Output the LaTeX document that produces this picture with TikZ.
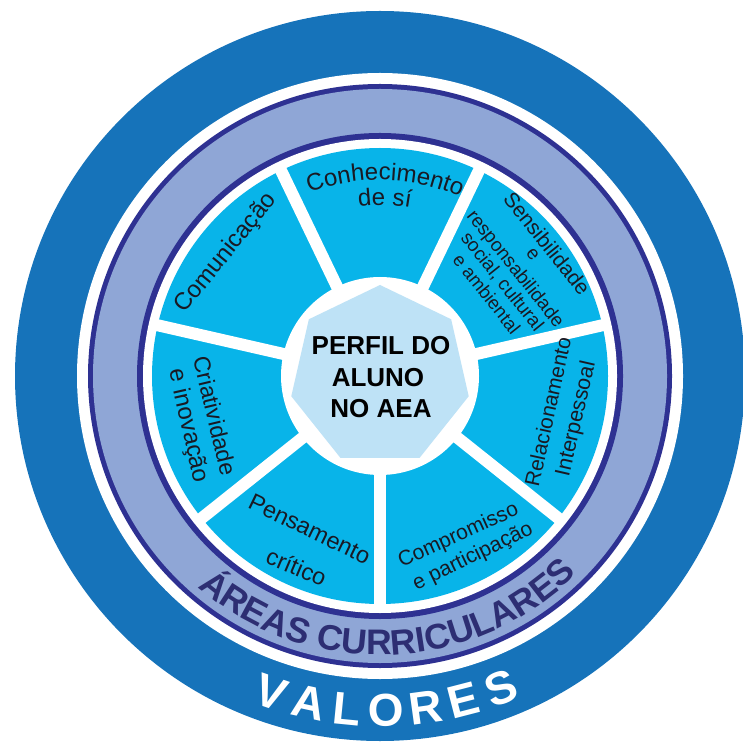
\documentclass[tikz,border=0pt]{standalone}
\usepackage{fontspec}
\setmainfont{Liberation Sans}
\usetikzlibrary{decorations.text,shapes.geometric}
\definecolor{ringblue}{RGB}{22,115,186}
\definecolor{navy}{RGB}{46,49,146}
\definecolor{lav}{RGB}{143,166,214}
\definecolor{sect}{RGB}{8,180,233}
\definecolor{hept}{RGB}{190,226,246}
\definecolor{areatxt}{RGB}{45,46,115}
\definecolor{txt}{RGB}{25,25,35}
\newcommand\cwtext[4]{%
  \path[decorate, decoration={text along path, text align=center, text color=txt,
    text={|\fontsize{#3}{#3}\selectfont|#4}}]
    ({380+#2*cos(#1+75)},{366+#2*sin(#1+75)}) arc[start angle=#1+75, end angle=#1-75, radius=#2pt];}
\newcommand\sline[6]{%
  \node[sectxt, font=\fontsize{#4}{#4}\selectfont, rotate=#3] (#6) at (#1,{742-#2}) {#5};}
\begin{document}
\begin{tikzpicture}[x=1pt,y=1pt,
  hubtxt/.style={font=\fontsize{26}{26}\selectfont\bfseries, text=black, anchor=base, inner sep=0pt},
  sectxt/.style={text=txt, inner sep=0pt, text height=0.62em, text depth=0pt, anchor=center},
  valletter/.style={font=\fontsize{46}{46}\selectfont\bfseries, text=white, inner sep=0pt,
    text height=33pt, text depth=0pt, anchor=center}]
\useasboundingbox (0,0) rectangle (743,742);
\coordinate (C) at (380,366);
\fill[ringblue] (C) circle[radius=365pt];
\fill[white] (C) circle[radius=303pt];
\fill[navy] (C) circle[radius=292pt];
\fill[lav] (C) circle[radius=287pt];
\fill[navy] (C) circle[radius=243pt];
\fill[white] (C) circle[radius=237pt];
\fill[sect] (C) circle[radius=228pt];
\foreach \k in {0,...,6} \draw[white, line width=12pt] (C) -- ++({115.714+\k*51.4286}:232pt);
\fill[white] (C) circle[radius=99pt];
\node[regular polygon, regular polygon sides=7, minimum size=182pt, inner sep=0pt, fill=hept] (hub) at (C) {};
\node[hubtxt] (p1) at (381,387) {PERFIL DO};
\node[hubtxt] (p2) at (378,355.3) {ALUNO};
\node[hubtxt] (p3) at (381,324) {NO AEA};
% sector texts
\cwtext{88.5}{196}{24}{Conhecimento}
\cwtext{88.5}{171}{24}{de sí}
\sline{228.5}{255}{51}{24}{Comunicação}{com}
\sline{543.7}{246.3}{-51.4}{21}{Sensibilidade}{sen1}
\sline{531}{256}{-51.4}{19}{e}{sen2}
\sline{513.4}{270.5}{-51.4}{19}{responsabilidade}{sen3}
\sline{500}{283.5}{-51.4}{19}{social, cultural}{sen4}
\sline{484}{296}{-51.4}{18.5}{e ambiental}{sen5}
\sline{552}{412.5}{77.6}{21}{Relacionamento}{rel1}
\sline{579}{419.5}{77.1}{21.5}{Interpessoal}{rel2}
\sline{210}{417}{-76.5}{23}{Criatividade}{cri1}
\sline{185}{426.5}{-77.1}{24}{e inovação}{cri2}
\sline{307.5}{533.5}{-25.8}{23.5}{Pensamento}{pen1}
\sline{294.5}{572}{-23}{23.5}{crítico}{pen2}
\sline{459.5}{538}{24.5}{21}{Compromisso}{cmp1}
\sline{474}{559}{26}{21}{e participação}{cmp2}
% areas curriculares
\path[decorate, decoration={text along path, text align=center, text color=areatxt,
  text={|\fontsize{35.5}{35.5}\selectfont\bfseries|ÁREAS CURRICULARES}}]
  ({380+279*cos(182)},{366+279*sin(182)}) arc[start angle=182, end angle=362, radius=279pt];
% valores
\foreach \l/\d [count=\i] in {V/-19,A/-12.3,L/-5.6,O/1.1,R/7.8,E/14.5,S/21.2}
  \node[valletter, rotate=\d] (val\i) at ({380+334*cos(270+\d)},{366+334*sin(270+\d)}) {\l};
\end{tikzpicture}
\end{document}
